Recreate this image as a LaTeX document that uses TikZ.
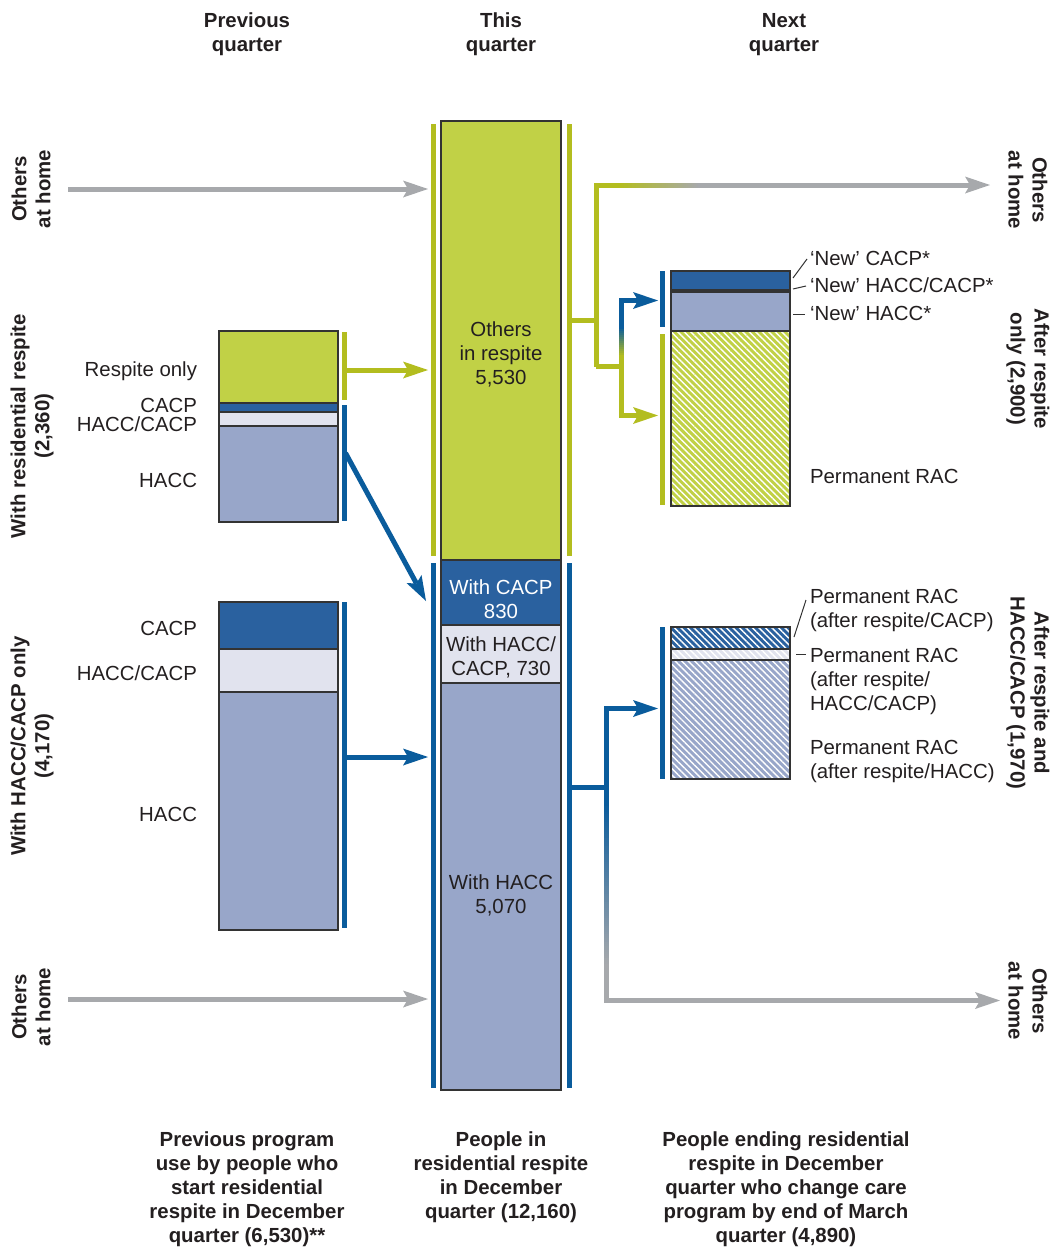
\documentclass[tikz,border=0pt]{standalone}
\usepackage{fontspec}
\setmainfont{Liberation Sans}
\usetikzlibrary{arrows.meta,patterns.meta}
\definecolor{limefill}{HTML}{C1D146}
\definecolor{limeline}{HTML}{B3BD1F}
\definecolor{bluefill}{HTML}{2A619F}
\definecolor{blueline}{HTML}{0A5C9C}
\definecolor{palefill}{HTML}{E1E3EE}
\definecolor{haccfill}{HTML}{98A6C9}
\definecolor{greyline}{HTML}{A7A9AC}
\definecolor{outline}{HTML}{333333}
\definecolor{ink}{HTML}{231F20}
\begin{document}
\begin{tikzpicture}[x=1pt, y=-1pt,
  box/.style={draw=outline, line width=1.1pt, inner sep=0pt, outer sep=0pt, anchor=north west},
  hatch/.style={pattern={Lines[angle=-45,distance=4.6pt,line width=1.4pt]}, pattern color=white},
  bar/.style={line width=5pt},
  link/.style={line width=5pt, line join=miter},
  conn/.style={link, -{Stealth[length=25pt,width=17pt,inset=5pt,line width=0pt]}},
  txt/.style={inner sep=0pt, outer sep=0pt, text=ink, font=\fontsize{20.4}{24}\selectfont},
  btxt/.style={txt, font=\fontsize{20.4}{24}\selectfont\bfseries, align=center},
  leader/.style={draw=outline, line width=1pt}]
\useasboundingbox (0,0) rectangle (1052,1248);

% ---------- central bar ----------
\node[box, fill=limefill, minimum width=120pt, minimum height=439pt] (cOthers) at (441,121) {};
\node[box, fill=bluefill, minimum width=120pt, minimum height=65pt] (cCACP) at (441,560) {};
\node[box, fill=palefill, minimum width=120pt, minimum height=58pt] (cHC) at (441,625) {};
\node[box, fill=haccfill, minimum width=120pt, minimum height=407pt] (cHACC) at (441,683) {};

% ---------- left top box ----------
\node[box, fill=limefill, minimum width=119pt, minimum height=72pt] (lRespite) at (219,331) {};
\node[box, fill=bluefill, minimum width=119pt, minimum height=9pt] (lCACP) at (219,403) {};
\node[box, fill=palefill, minimum width=119pt, minimum height=14pt] (lHC) at (219,412) {};
\node[box, fill=haccfill, minimum width=119pt, minimum height=96pt] (lHACC) at (219,426) {};

% ---------- left bottom box ----------
\node[box, fill=bluefill, minimum width=119pt, minimum height=47pt] (mCACP) at (219,602) {};
\node[box, fill=palefill, minimum width=119pt, minimum height=43pt] (mHC) at (219,649) {};
\node[box, fill=haccfill, minimum width=119pt, minimum height=238pt] (mHACC) at (219,692) {};

% ---------- right top box ----------
\node[box, fill=bluefill, minimum width=119pt, minimum height=19pt] (rCACP) at (671,271) {};
\node[box, fill=outline, minimum width=119pt, minimum height=2pt] (rHC) at (671,290) {};
\node[box, fill=haccfill, minimum width=119pt, minimum height=39pt] (rHACC) at (671,292) {};
\node[box, preaction={fill=limefill}, hatch, minimum width=119pt, minimum height=175pt] (rRAC) at (671,331) {};

% ---------- right bottom box ----------
\node[box, preaction={fill=bluefill}, hatch, minimum width=119pt, minimum height=22pt] (sCACP) at (671,627) {};
\node[box, preaction={fill=palefill}, hatch, minimum width=119pt, minimum height=11pt] (sHC) at (671,649) {};
\node[box, preaction={fill=haccfill}, hatch, minimum width=119pt, minimum height=119pt] (sHACC) at (671,660) {};

% ---------- brackets ----------
\draw[bar, limeline] (344,332) -- (344,400);
\draw[bar, blueline] (344,405) -- (344,521);
\draw[bar, blueline] (344,602) -- (344,928);
\draw[bar, limeline] (433,124) -- (433,556);
\draw[bar, blueline] (433,563) -- (433,1088);
\draw[bar, limeline] (569,124) -- (569,556);
\draw[bar, blueline] (569,563) -- (569,1088);
\draw[bar, blueline] (662,271) -- (662,327);
\draw[bar, limeline] (662,334) -- (662,505);
\draw[bar, blueline] (662,627) -- (662,779);

% ---------- coordinates ----------
\coordinate (homeTopL) at (68,189);
\coordinate (cInTop) at (428,189);
\coordinate (lRespOut) at (344,370);
\coordinate (cInResp) at (428,370);
\coordinate (lHaccOut) at (345.5,453);
\coordinate (cInCACP) at (426,601);
\coordinate (mOut) at (344,757);
\coordinate (cInHacc) at (428,757);
\coordinate (homeBotL) at (68,999);
\coordinate (cInBot) at (428,999);
\coordinate (cOutGreen) at (569,320);
\coordinate (gJoin) at (596,320);
\coordinate (gTop) at (596,185);
\coordinate (gLow) at (596,366.5);
\coordinate (gSplit) at (621.5,366.5);
\coordinate (rInBlue) at (658,300.5);
\coordinate (rInGreen) at (658,415.5);
\coordinate (homeTopR) at (990,185);
\coordinate (cOutBlue) at (569,787.5);
\coordinate (bJoin) at (606.5,787.5);
\coordinate (sIn) at (658,708.5);
\coordinate (homeBotR) at (1000,1000.5);

% ---------- left connectors ----------
\draw[conn, greyline] (homeTopL) -- (cInTop);
\draw[conn, limeline] (lRespOut) -- (cInResp);
\draw[conn, blueline] (lHaccOut) -- (cInCACP);
\draw[conn, blueline] (mOut) -- (cInHacc);
\draw[conn, greyline] (homeBotL) -- (cInBot);

% ---------- right upper connectors ----------
\draw[link, limeline] (cOutGreen) -- (gJoin);
\draw[link, limeline] (gLow) -- (gTop) -- (621,185);
\foreach \i in {0,...,39}{
  \pgfmathtruncatemacro\p{100-\i*100/39}
  \fill[limeline!\p!greyline] (620+\i*2,182.5) rectangle (622.6+\i*2,187.5);
}
\draw[conn, greyline] (699,185) -- (homeTopR);
\draw[link, limeline] (gLow) -- (gSplit);
\draw[conn, limeline] (621.5,356) -- (621.5,415.5) -- (rInGreen);
\draw[conn, blueline] (621.5,328) -- (621.5,300.5) -- (rInBlue);
\foreach \i in {0,...,14}{
  \pgfmathtruncatemacro\p{100-\i*100/14}
  \fill[blueline!\p!limeline] (619,327+\i*2) rectangle (624,329.6+\i*2);
}

% ---------- right lower connectors ----------
\draw[link, blueline] (cOutBlue) -- (bJoin);
\draw[conn, blueline] (606.5,805) -- (606.5,708.5) -- (sIn);
\foreach \i in {0,...,80}{
  \pgfmathtruncatemacro\p{100-\i*100/80}
  \fill[blueline!\p!greyline] (604,804+\i*2) rectangle (609,806.6+\i*2);
}
\draw[conn, greyline] (606.5,965) -- (606.5,1000.5) -- (homeBotR);

% ---------- leaders ----------
\draw[leader] (793,278) -- (807,259);
\draw[leader] (793,289) -- (806,286);
\draw[leader] (793,314) -- (805,314);
\draw[leader] (794,637) -- (806,600);
\draw[leader] (796,654) -- (806,654);

% ---------- headers ----------
\node[btxt, anchor=north] (hPrev) at (247,13) {Previous\\quarter};
\node[btxt, anchor=north] (hThis) at (501,13) {This\\quarter};
\node[btxt, anchor=north] (hNext) at (784,13) {Next\\quarter};

% ---------- central texts ----------
\node[txt, align=center] (tOthers) at (501,354) {Others\\in respite\\5,530};
\node[txt, align=center, text=white] (tCACP) at (501,599) {With CACP\\830};
\node[txt, align=center] (tHC) at (501,657) {With HACC/\\CACP, 730};
\node[txt, align=center] (tHACC) at (501,895) {With HACC\\5,070};

% ---------- left labels ----------
\node[txt, anchor=base east] (lbRespite) at (197,376) {Respite only};
\node[txt, anchor=base east] (lbCACP) at (197,412) {CACP};
\node[txt, anchor=base east] (lbHC) at (197,431) {HACC/CACP};
\node[txt, anchor=base east] (lbHACC) at (197,487) {HACC};
\node[txt, anchor=base east] (mbCACP) at (197,635) {CACP};
\node[txt, anchor=base east] (mbHC) at (197,680) {HACC/CACP};
\node[txt, anchor=base east] (mbHACC) at (197,821) {HACC};

% ---------- right labels ----------
\node[txt, anchor=base west] (rbCACP) at (810,265) {‘New’ CACP*};
\node[txt, anchor=base west] (rbHC) at (810,292) {‘New’ HACC/CACP*};
\node[txt, anchor=base west] (rbHACC) at (810,320) {‘New’ HACC*};
\node[txt, anchor=base west] (rbRAC) at (810,483) {Permanent RAC};
\node[txt, anchor=north west, align=left] (sbCACP) at (810,589.5) {Permanent RAC\\(after respite/CACP)};
\node[txt, anchor=north west, align=left] (sbHC) at (810,648.5) {Permanent RAC\\(after respite/\\HACC/CACP)};
\node[txt, anchor=north west, align=left] (sbHACC) at (810,740.5) {Permanent RAC\\(after respite/HACC)};

% ---------- rotated side labels ----------
\node[btxt, rotate=90] (sideHomeTL) at (31,189) {Others\\at home};
\node[btxt, rotate=90] (sideResp) at (32,426) {With residential respite\\(2,360)};
\node[btxt, rotate=90] (sideHacc) at (32,746) {With HACC/CACP only\\(4,170)};
\node[btxt, rotate=90] (sideHomeBL) at (31,1007) {Others\\at home};
\node[btxt, rotate=-90] (sideHomeTR) at (1028,190) {Others\\at home};
\node[btxt, rotate=-90] (sideAfterR) at (1028,369) {After respite\\only (2,900)};
\node[btxt, rotate=-90] (sideAfterH) at (1028,693) {After respite and\\HACC/CACP (1,970)};
\node[btxt, rotate=-90] (sideHomeBR) at (1028,1001) {Others\\at home};

% ---------- footers ----------
\node[btxt, anchor=north] (fPrev) at (247,1132) {Previous program\\use by people who\\start residential\\respite in December\\quarter (6,530)**};
\node[btxt, anchor=north] (fThis) at (501,1132) {People in\\residential respite\\in December\\quarter (12,160)};
\node[btxt, anchor=north] (fNext) at (786,1132) {People ending residential\\respite in December\\quarter who change care\\program by end of March\\quarter (4,890)};
\end{tikzpicture}
\end{document}
